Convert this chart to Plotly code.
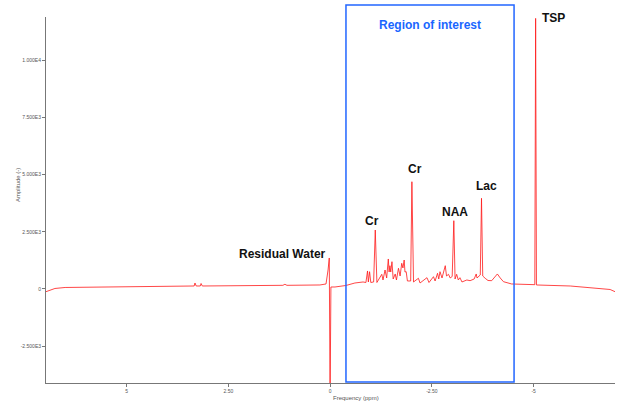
import plotly.graph_objects as go

# Spectrum samples (ppm, amplitude)
ppm = [6.98, 6.88, 6.76, 6.51, 5.65, 4.42, 3.44, 3.34, 3.32, 3.29, 3.19, 3.17, 3.14,
       1.97, 1.16, 1.11, 1.06, 0.25, 0.10, 0.05, 0.02, 0.00, -0.02, -0.12,
       -0.39, -0.61, -0.81, -0.88, -0.92, -0.94, -0.97, -1.00, -1.07, -1.11, -1.15,
       -1.27, -1.30, -1.35, -1.39, -1.43, -1.45, -1.47, -1.49, -1.52, -1.55, -1.60,
       -1.63, -1.68, -1.72, -1.76, -1.79, -1.82, -1.84, -1.87, -1.90, -1.98, -2.01,
       -2.05, -2.17, -2.21, -2.38, -2.43, -2.54, -2.58, -2.64, -2.67, -2.70, -2.75,
       -2.83, -2.86, -2.91, -2.95, -3.00, -3.04, -3.07, -3.11, -3.15, -3.19, -3.24,
       -3.36, -3.44, -3.54, -3.59, -3.61, -3.64, -3.69, -3.72, -3.75, -3.81, -3.88,
       -3.97, -4.04, -4.11, -4.18, -4.26, -4.46, -4.67, -5.03, -5.05, -5.07, -5.90,
       -6.71, -6.88, -7.00]
amplitude = [-118, -44, 22, 66, 87, 109, 131, 131, 262, 131, 131, 240, 131,
             153, 160, 205, 160, 175, 219, 830, 1355, -4850, 87, 87,
             153, 262, 306, 284, 787, 306, 756, 284, 306, 2578, 284,
             642, 393, 830, 481, 1311, 743, 1018, 743, 1193, 437, 656,
             393, 905, 568, 1123, 918, 1267, 743, 756, 350, 350, 4689,
             306, 468, 262, 494, 284, 538, 350, 686, 437, 756, 481,
             1018, 568, 642, 481, 546, 2985, 437, 642, 393, 494, 306,
             393, 363, 437, 656, 481, 524, 612, 3964, 568, 468, 371,
             363, 503, 656, 481, 319, 219, 205, 188, 11830, 175, 131,
             31, -22, -118]

# Axis ticks
x_tickvals = [5, 2.5, 0, -2.5, -5]
x_ticktext = ["5", "2.50", "0", "-2.50", "-5"]
y_tickvals = [-2500, 0, 2500, 5000, 7500, 10000]
y_ticktext = ["-2.500E3", "0", "2.500E3", "5.000E3", "7.500E3", "1.000E4"]

# Peak labels (text, ppm, amplitude)
label_text = ["Residual Water", "Cr", "Cr", "NAA", "Lac", "TSP"]
label_ppm = [1.17, -1.04, -2.08, -3.08, -3.84, -5.50]
label_amp = [1530, 2985, 5231, 3352, 4501, 11830]

# Region of interest (ppm)
roi_start = -0.39
roi_end = -4.52

fig = go.Figure()
fig.add_trace(go.Scatter(
    x=ppm, y=amplitude, mode="lines",
    line=dict(color="rgba(255,25,25,0.8)", width=1),
    hoverinfo="skip", showlegend=False,
))

fig.add_shape(type="rect", xref="x", yref="paper",
              x0=roi_start, x1=roi_end, y0=0.003, y1=1.033,
              line=dict(color="#2266ff", width=1.5), fillcolor="rgba(0,0,0,0)")

fig.add_annotation(x=(roi_start + roi_end) / 2, xref="x", y=0.978, yref="paper",
                   text="<b>Region of interest</b>", showarrow=False,
                   font=dict(family="Liberation Sans, Arial", size=12, color="#1a66ff"),
                   xanchor="center", yanchor="middle")

for t, xp, ya in zip(label_text, label_ppm, label_amp):
    fig.add_annotation(x=xp, y=ya, xref="x", yref="y", text="<b>%s</b>" % t,
                       showarrow=False, xanchor="center", yanchor="middle",
                       font=dict(family="Liberation Sans, Arial", size=12, color="#111111"))

fig.add_annotation(x=0.501, y=-0.041, xref="paper", yref="paper",
                   text="Frequency (ppm)", showarrow=False, xanchor="left", yanchor="middle",
                   font=dict(family="Liberation Sans, Arial", size=6, color="#555555"))
fig.add_annotation(x=-0.049, y=0.541, xref="paper", yref="paper",
                   text="Amplitude (-)", showarrow=False, textangle=-90,
                   xanchor="center", yanchor="middle",
                   font=dict(family="Liberation Sans, Arial", size=6, color="#555555"))

fig.update_layout(
    width=622, height=401,
    margin=dict(l=46, r=7, t=17, b=18),
    paper_bgcolor="white", plot_bgcolor="white",
    xaxis=dict(range=[6.98, -7.0], tickvals=x_tickvals, ticktext=x_ticktext,
               showgrid=False, zeroline=False, showline=True, linecolor="#777777",
               linewidth=1, ticks="outside", ticklen=3, tickcolor="#777777",
               tickfont=dict(family="Liberation Sans, Arial", size=5, color="#555555"),
               automargin=False),
    yaxis=dict(range=[-4110, 11890], tickvals=y_tickvals, ticktext=y_ticktext,
               showgrid=False, zeroline=False, showline=True, linecolor="#777777",
               linewidth=1, ticks="outside", ticklen=3, tickcolor="#777777",
               tickfont=dict(family="Liberation Sans, Arial", size=5, color="#555555"),
               automargin=False),
)

fig.write_html("out.html", config={"displayModeBar": False},
               post_script="document.body.style.margin='0';document.body.style.overflow='hidden';")
